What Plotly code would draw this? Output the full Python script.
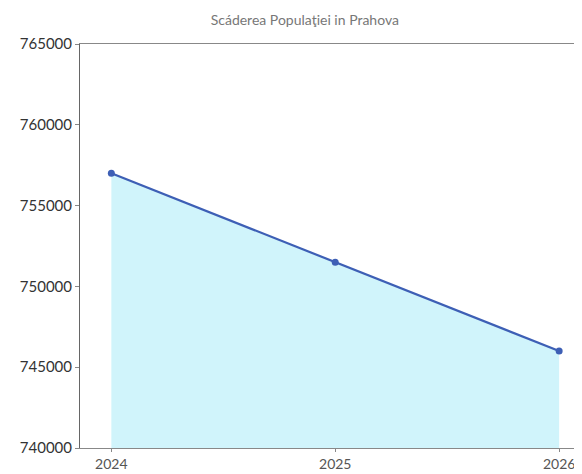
import plotly.graph_objects as go

years = [2024, 2025, 2026]
population = [757000, 751500, 746000]
y_ticks = [740000, 745000, 750000, 755000, 760000, 765000]
title_text = "Scáderea Populaţiei in Prahova"

fig = go.Figure()
fig.add_trace(go.Scatter(
    x=years, y=population, mode="lines+markers",
    fill="tozeroy", fillcolor="rgba(200,242,250,0.85)",
    line=dict(color="#3d5fb5", width=2.2),
    marker=dict(color="#3d5fb5", size=7),
    showlegend=False,
))

fig.update_layout(
    width=582, height=474,
    margin=dict(l=72, r=4, t=36, b=34),
    paper_bgcolor="white", plot_bgcolor="white",
    font=dict(family="Lato, 'Open Sans', sans-serif", color="#333"),
    title=dict(text=title_text, x=0.51, xanchor="center", y=0.985, yanchor="top",
               font=dict(size=14, color="#777")),
)
fig.update_xaxes(
    range=[2023.86, 2026.12], tickvals=years, ticktext=[str(v) for v in years],
    showgrid=False, zeroline=False, showline=True, linecolor="#888", linewidth=1,
    mirror=True, ticks="outside", ticklen=3, tickcolor="#888",
    tickfont=dict(size=14, color="#555"),
)
fig.update_yaxes(
    range=[740000, 765000], tickvals=y_ticks, ticktext=[str(v) for v in y_ticks],
    showgrid=False, zeroline=False, showline=True, linecolor="#666", linewidth=1,
    mirror=True, ticks="outside", ticklen=4, tickcolor="#888",
    tickfont=dict(size=15, color="#333"),
)
fig.write_html("out.html")
